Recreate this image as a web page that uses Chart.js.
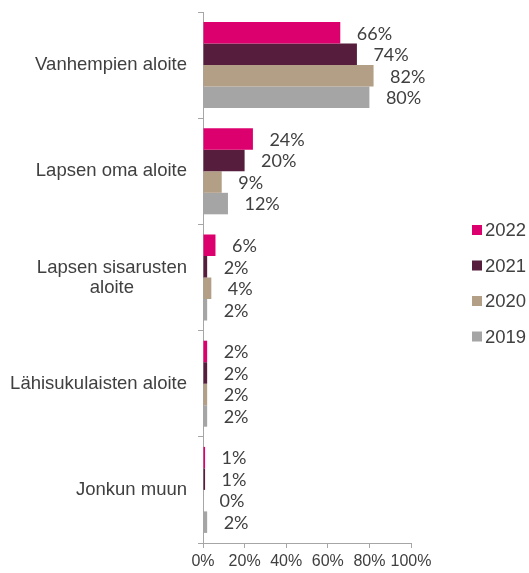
<!DOCTYPE html>
<html>
<head>
<meta charset="utf-8">
<script src="https://cdn.jsdelivr.net/npm/chart.js@4/dist/chart.umd.min.js"></script>
<style>
  html, body { margin: 0; padding: 0; background: #ffffff; }
  canvas { display: block; }
</style>
</head>
<body>
<canvas id="c" width="529" height="573"></canvas>
<script>
const categories = [
  'Vanhempien aloite',
  'Lapsen oma aloite',
  ['Lapsen sisarusten', 'aloite'],
  'Lähisukulaisten aloite',
  'Jonkun muun'
];
const seriesNames = ['2022', '2021', '2020', '2019'];
const values2022 = [66, 24, 6, 2, 1];
const values2021 = [74, 20, 2, 2, 1];
const values2020 = [82, 9, 4, 2, 0];
const values2019 = [80, 12, 2, 2, 2];
const xTicks = [0, 20, 40, 60, 80, 100];
const colors = ['#DC006E', '#561D3D', '#B39E86', '#A5A5A5'];

const seriesValues = [values2022, values2021, values2020, values2019];
const TEXT = '#404040';
const AXIS = '#A6A6A6';

const datasets = seriesNames.map((name, i) => ({
  label: name,
  data: seriesValues[i],
  backgroundColor: colors[i],
  borderWidth: 0,
  barPercentage: 1.0,
  categoryPercentage: 0.81
}));

const labelPlugin = {
  id: 'customLabels',
  afterDraw(chart) {
    const ctx = chart.ctx;
    const yScale = chart.scales.y;
    // data labels
    ctx.save();
    ctx.font = '18px Lato, "Liberation Sans", sans-serif';
    ctx.fillStyle = TEXT;
    ctx.textAlign = 'left';
    ctx.textBaseline = 'middle';
    chart.data.datasets.forEach((ds, di) => {
      const meta = chart.getDatasetMeta(di);
      meta.data.forEach((bar, j) => {
        ctx.fillText(ds.data[j] + '%', bar.x + 16.5, bar.y + 1);
      });
    });
    ctx.restore();

    // category labels
    ctx.save();
    ctx.font = '18.5px "Liberation Sans", Arial, sans-serif';
    ctx.fillStyle = TEXT;
    ctx.textBaseline = 'middle';
    ctx.textAlign = 'center';
    const rightX = 187;
    const lineH = 20;
    categories.forEach((lab, i) => {
      const lines = Array.isArray(lab) ? lab : [lab];
      const widest = Math.max(...lines.map(l => ctx.measureText(l).width));
      const cx = rightX - widest / 2;
      const yc = yScale.getPixelForTick(i);
      const y0 = yc - (lines.length - 1) * lineH / 2;
      lines.forEach((l, k) => ctx.fillText(l, cx, y0 + k * lineH));
    });
    ctx.restore();

    // legend
    ctx.save();
    ctx.font = '18.5px "Liberation Sans", Arial, sans-serif';
    ctx.textBaseline = 'middle';
    ctx.textAlign = 'left';
    const rowY = [231, 266.5, 302, 337.5];
    chart.data.datasets.forEach((ds, di) => {
      const y = rowY[di];
      ctx.fillStyle = ds.backgroundColor;
      ctx.fillRect(472, y - 6, 10, 10);
      ctx.fillStyle = TEXT;
      ctx.fillText(ds.label, 485, y);
    });
    ctx.restore();
  }
};

new Chart(document.getElementById('c'), {
  type: 'bar',
  data: { labels: categories, datasets },
  plugins: [labelPlugin],
  options: {
    indexAxis: 'y',
    responsive: false,
    animation: false,
    events: [],
    layout: { padding: { left: 0, right: 118, top: 12, bottom: 0 } },
    plugins: { legend: { display: false }, tooltip: { enabled: false } },
    scales: {
      x: {
        min: 0,
        max: 100,
        afterBuildTicks(scale) { scale.ticks = xTicks.map(v => ({ value: v })); },
        afterFit(scale) { scale.height = 30; },
        ticks: {
          callback: v => v + '%',
          font: { family: '"Liberation Sans", Arial, sans-serif', size: 16 },
          color: TEXT,
          padding: 4,
          maxRotation: 0,
          autoSkip: false
        },
        grid: { drawOnChartArea: false, tickLength: 5, color: AXIS },
        border: { color: AXIS }
      },
      y: {
        type: 'category',
        offset: true,
        afterFit(scale) { scale.width = 203; },
        ticks: { display: false },
        grid: { offset: true, drawOnChartArea: false, tickLength: 5, color: AXIS },
        border: { color: AXIS }
      }
    }
  }
});
</script>
</body>
</html>
